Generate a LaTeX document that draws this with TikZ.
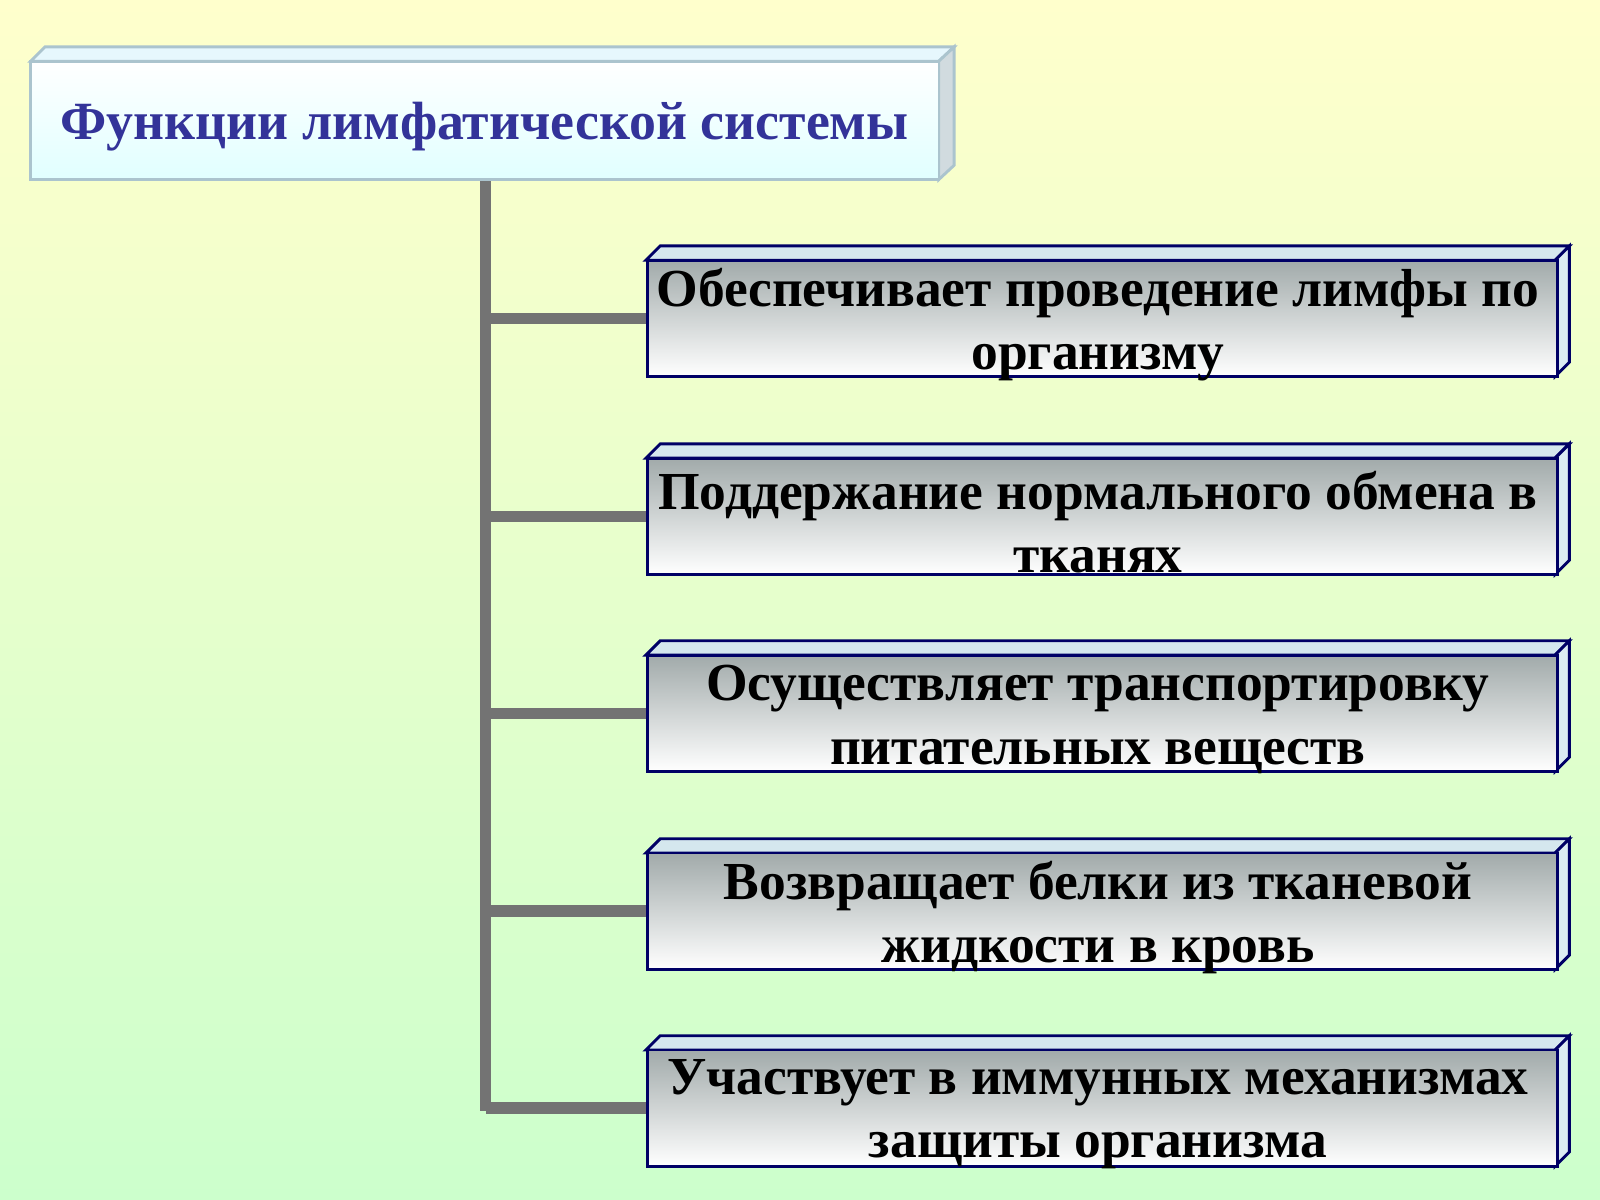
\documentclass[tikz,border=0pt]{standalone}
\usepackage{fontspec}
\setmainfont{Liberation Serif}
\begin{document}
\begin{tikzpicture}[x=0.01cm,y=-0.01cm,
  trunk/.style={draw=gray!90!black,line width=3.2pt},
  fbox/.style={draw=blue!40!black,line width=0.8pt,top color=gray!50!cyan!10!gray!70,bottom color=white},
  face/.style={draw=blue!40!black,line width=0.8pt,fill=gray!55!cyan!25},
  ftext/.style={font=\fontsize{14.9}{17.6}\selectfont\bfseries,align=center,text=black},
]
\fill[top color={rgb,255:red,255;green,255;blue,204},bottom color={rgb,255:red,204;green,255;blue,204}] (0,0) rectangle (1568,1176);
\useasboundingbox (0,0) rectangle (1568,1176);
% title
\fill[draw=cyan!30!gray!60,line width=0.8pt,fill=cyan!10!white] (30,60)--(44,46)--(935,46)--(920,60)--cycle;
\fill[draw=cyan!30!gray!60,line width=0.8pt,fill=cyan!20!gray!35] (920,60)--(935,46)--(935,162)--(920,176)--cycle;
\node[draw=cyan!30!gray!60,line width=0.8pt,top color=white,bottom color=cyan!12!white,minimum width=8.9cm,minimum height=1.16cm,inner sep=0] (t) at (475,118) {};
\node[font=\fontsize{15}{17}\selectfont\bfseries,text={rgb,255:red,51;green,51;blue,153}] at (475,124) {Функции лимфатической системы};
\coordinate (b) at (476,1089);
\draw[trunk] (t.south -| 476,0) -- (b);
\foreach \i/\y/\txt in {1/312/{Обеспечивает проведение лимфы по\\организму},
  2/506/{Поддержание нормального обмена в\\тканях},
  3/699/{Осуществляет транспортировку\\питательных веществ},
  4/893/{Возвращает белки из тканевой\\жидкости в кровь},
  5/1086/{Участвует в иммунных механизмах\\защиты организма}}{
  \filldraw[face] (633,\y-57)--(647,\y-71)--(1538,\y-71)--(1524,\y-57)--cycle;
  \filldraw[face,fill=gray!50!cyan!20] (1524,\y-57)--(1538,\y-71)--(1538,\y+43)--(1524,\y+57)--cycle;
  \node[fbox,minimum width=8.91cm,minimum height=1.14cm,inner sep=0,anchor=west] (n\i) at (633,\y) {};
  \node[ftext] at (1076,\y+6) {\txt};
  \draw[trunk] (476,\y) -- (n\i.west);
}
\end{tikzpicture}
\end{document}
